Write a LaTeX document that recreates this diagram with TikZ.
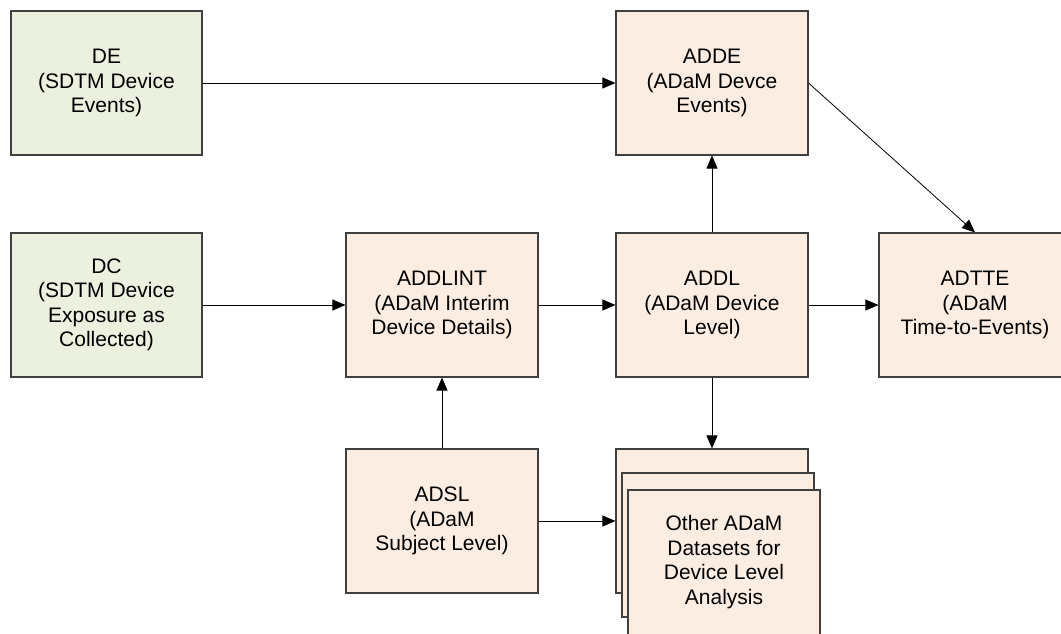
\documentclass[tikz,border=0pt]{standalone}
\usepackage{fontspec}
\setmainfont{Liberation Sans}
\usetikzlibrary{arrows.meta,positioning}
\definecolor{sdtmfill}{HTML}{EBF1DE}
\definecolor{adamfill}{HTML}{FCEDE2}
\definecolor{edge}{HTML}{404040}
\begin{document}
\begin{tikzpicture}[x=1pt,y=-1pt,
  box/.style={draw=edge,line width=1.1pt,align=center,inner sep=0pt,
    font=\fontsize{21}{24.5}\selectfont},
  sdtm/.style={box,fill=sdtmfill},
  adam/.style={box,fill=adamfill},
  conn/.style={draw=black,line width=0.8pt,-{Triangle[length=13pt,width=11pt]}}]
\useasboundingbox (0,0) rectangle (1061,633);
\clip (0,0) rectangle (1061,633);
\fill[white] (0,0) rectangle (1061,633);
% boxes as rectangles with centred text
\newcommand{\mybox}[7]{%
  \node[#1,minimum width=#4pt-#2pt,minimum height=#5pt-#3pt] (#6) at ({(#2+#4)/2},{(#3+#5)/2}) {#7};}
\mybox{sdtm}{11}{11}{202}{155}{DE}{DE\\(SDTM Device\\Events)}
\mybox{adam}{616}{11}{808}{155}{ADDE}{ADDE\\(ADaM Devce\\Events)}
\mybox{sdtm}{11}{233}{202}{377}{DC}{DC\\(SDTM Device\\Exposure as\\Collected)}
\mybox{adam}{346}{233}{538}{377}{ADDLINT}{ADDLINT\\(ADaM Interim\\Device Details)}
\mybox{adam}{616}{233}{808}{377}{ADDL}{ADDL\\(ADaM Device\\Level)}
\mybox{adam}{879}{233}{1071}{377}{ADTTE}{ADTTE\\(ADaM\\Time-to-Events)}
\mybox{adam}{346}{449}{538}{593}{ADSL}{ADSL\\(ADaM\\Subject Level)}
\mybox{adam}{616}{449}{808}{593}{back}{}
\mybox{adam}{622}{473}{814}{617}{mid}{}
\mybox{adam}{628}{490}{820}{642}{front}{}
\node[box,draw=none,fill=none] (fronttext) at (724,562) {Other ADaM\\Datasets for\\Device Level\\Analysis};
% connectors
\draw[conn] (DE.east) -- (ADDE.west);
\draw[conn] (DC.east) -- (ADDLINT.west);
\draw[conn] (ADDLINT.east) -- (ADDL.west);
\draw[conn] (ADDL.east) -- (ADTTE.west);
\draw[conn] (ADDL.north) -- (ADDE.south);
\draw[conn] (ADDE.east) -- (ADTTE.north);
\draw[conn] (ADDL.south) -- (back.north);
\draw[conn] (ADSL.north) -- (ADDLINT.south);
\draw[conn] (ADSL.east) -- (ADSL.east -| back.west);
\end{tikzpicture}
\end{document}
